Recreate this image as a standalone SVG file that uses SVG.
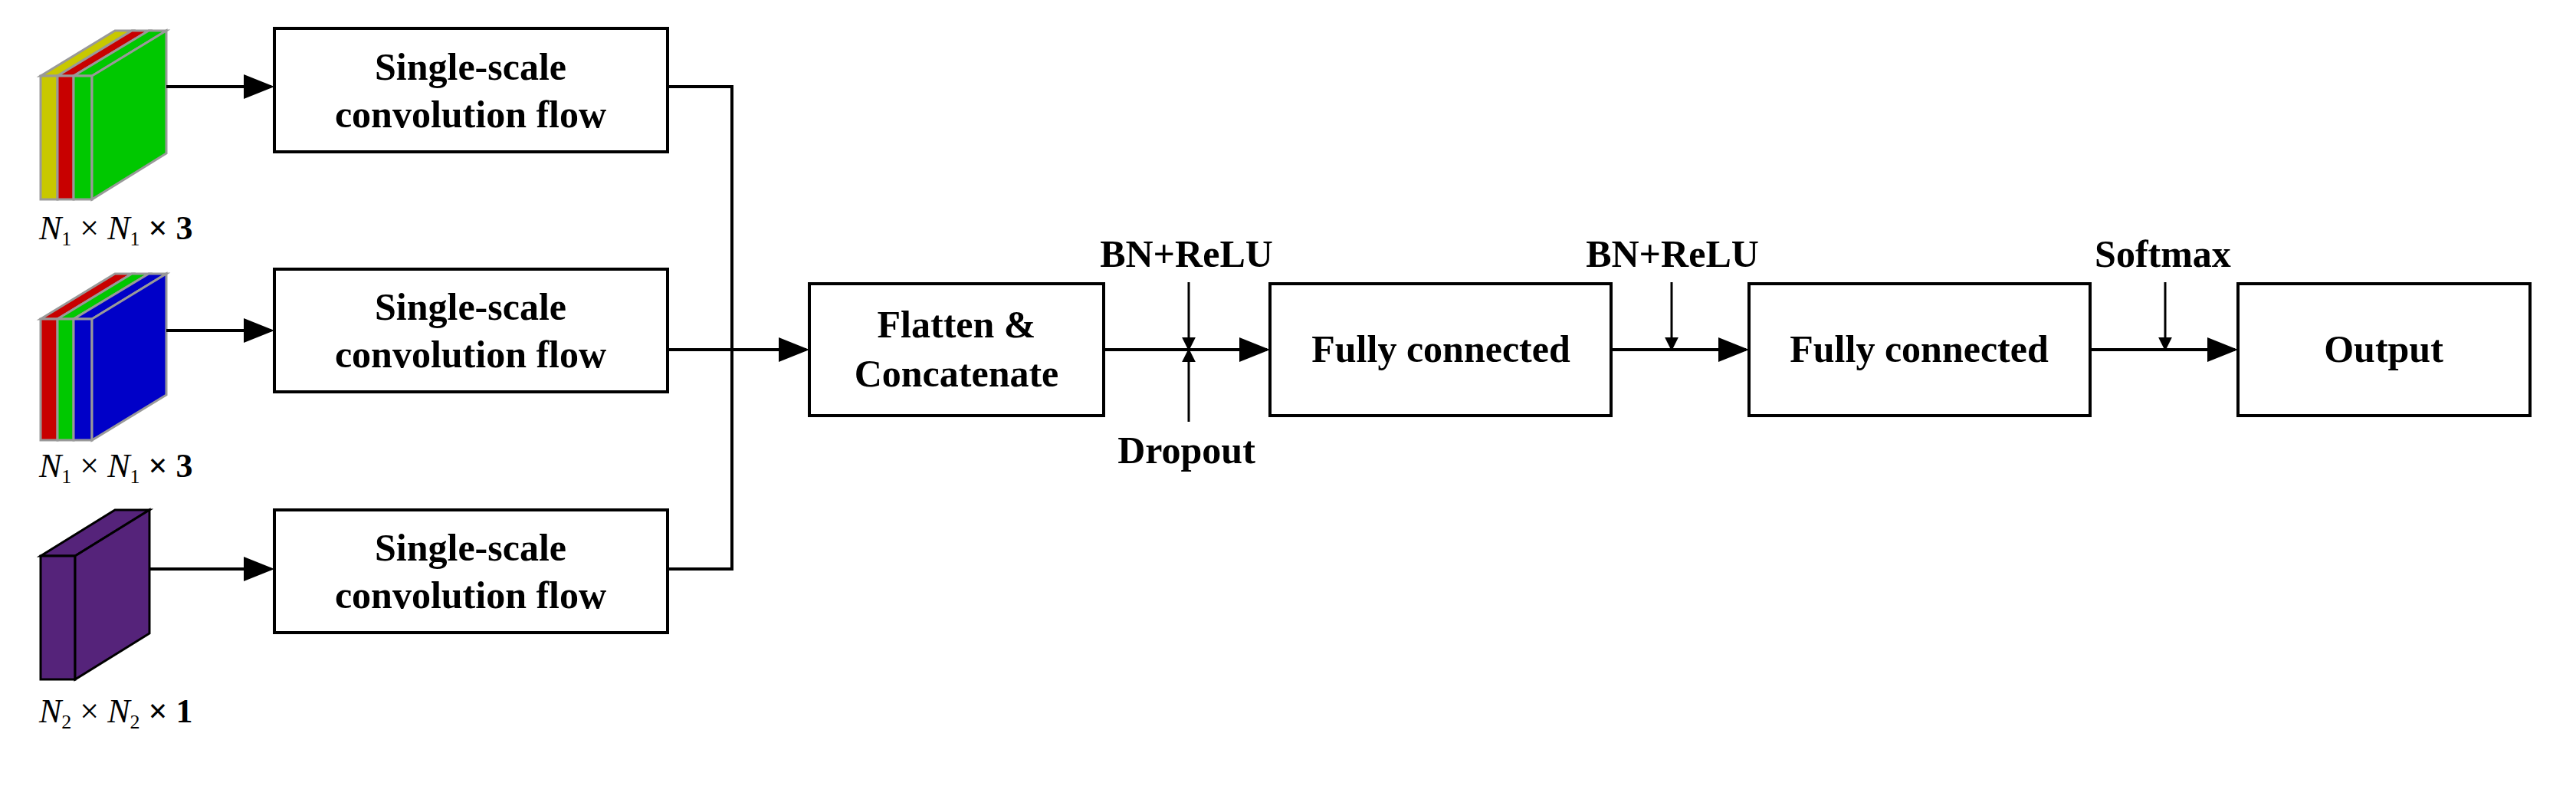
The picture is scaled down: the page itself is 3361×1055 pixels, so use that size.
<svg xmlns="http://www.w3.org/2000/svg" width="3361" height="1055" viewBox="0 0 3361 1055">
<style>
.box{fill:#fff;stroke:#000;stroke-width:4}
.t{font-family:"Liberation Serif","Times New Roman",serif;font-weight:bold;font-size:50px;text-anchor:middle;fill:#000}
.l{font-family:"Liberation Serif","Times New Roman",serif;font-size:44px;fill:#000}
.c{fill:none;stroke:#000;stroke-width:4}
.s{stroke:#999;stroke-width:3}
</style>
<defs>
<marker id="ah" markerWidth="10" markerHeight="8" refX="9" refY="4" orient="auto" markerUnits="strokeWidth"><path d="M0,0 L10,4 L0,8 z" fill="#000"/></marker>
<marker id="ah2" markerWidth="6" markerHeight="10" refX="9" refY="5" orient="auto" viewBox="0 0 10 10"><path d="M0,0 L10,5 L0,10 z" fill="#000"/></marker>
</defs>
<g id="input1">
<polygon class="s" points="53,99 150,40 172,40 75,99" fill="#c8c800"/>
<polygon class="s" points="75,99 172,40 194,40 96,99" fill="#c80000"/>
<polygon class="s" points="96,99 194,40 217,40 120,99" fill="#00c800"/>
<rect class="s" x="53" y="99" width="22" height="161" fill="#c8c800"/>
<rect class="s" x="75" y="99" width="21" height="161" fill="#c80000"/>
<rect class="s" x="96" y="99" width="24" height="161" fill="#00c800"/>
<polygon class="s" points="120,99 217,40 217,200 120,260" fill="#00c800"/>
<text class="l" x="51" y="312"><tspan font-style="italic">N</tspan><tspan font-size="26" dy="8">1</tspan><tspan dy="-8"> × </tspan><tspan font-style="italic">N</tspan><tspan font-size="26" dy="8">1</tspan><tspan dy="-8" font-weight="bold"> × 3</tspan></text>
</g>
<g id="input2">
<polygon class="s" points="53,416 150,357 172,357 75,416" fill="#c80000"/>
<polygon class="s" points="75,416 172,357 194,357 96,416" fill="#00c800"/>
<polygon class="s" points="96,416 194,357 217,357 120,416" fill="#0000c8"/>
<rect class="s" x="53" y="416" width="22" height="158" fill="#c80000"/>
<rect class="s" x="75" y="416" width="21" height="158" fill="#00c800"/>
<rect class="s" x="96" y="416" width="24" height="158" fill="#0000c8"/>
<polygon class="s" points="120,416 217,357 217,515 120,574" fill="#0000c8"/>
<text class="l" x="51" y="622"><tspan font-style="italic">N</tspan><tspan font-size="26" dy="8">1</tspan><tspan dy="-8"> × </tspan><tspan font-style="italic">N</tspan><tspan font-size="26" dy="8">1</tspan><tspan dy="-8" font-weight="bold"> × 3</tspan></text>
</g>
<g id="input3" stroke="#000" stroke-width="3" fill="#55237a">
<polygon points="53,725 150,665 195,665 98,725"/>
<rect x="53" y="725" width="45" height="161"/>
<polygon points="98,725 195,665 195,826 98,886"/>
<text class="l" x="51" y="942" stroke="none" fill="#000"><tspan font-style="italic">N</tspan><tspan font-size="26" dy="8">2</tspan><tspan dy="-8"> × </tspan><tspan font-style="italic">N</tspan><tspan font-size="26" dy="8">2</tspan><tspan dy="-8" font-weight="bold"> × 1</tspan></text>
</g>
<g id="conv1"><rect class="box" x="358" y="37" width="513" height="161"/><text class="t" x="614" y="104">Single-scale</text><text class="t" x="614" y="166">convolution flow</text></g>
<g id="conv2"><rect class="box" x="358" y="351" width="513" height="160"/><text class="t" x="614" y="417">Single-scale</text><text class="t" x="614" y="479">convolution flow</text></g>
<g id="conv3"><rect class="box" x="358" y="665" width="513" height="160"/><text class="t" x="614" y="731">Single-scale</text><text class="t" x="614" y="793">convolution flow</text></g>
<g id="flatten"><rect class="box" x="1056" y="370" width="384" height="172"/><text class="t" x="1248" y="440">Flatten &amp;</text><text class="t" x="1248" y="504">Concatenate</text></g>
<g id="fc1"><rect class="box" x="1657" y="370" width="445" height="172"/><text class="t" x="1880" y="472">Fully connected</text></g>
<g id="fc2"><rect class="box" x="2282" y="370" width="445" height="172"/><text class="t" x="2504" y="472">Fully connected</text></g>
<g id="output"><rect class="box" x="2920" y="370" width="381" height="172"/><text class="t" x="3110" y="472">Output</text></g>
<g id="labels">
<text class="t" x="1548" y="348">BN+ReLU</text>
<text class="t" x="1548" y="604">Dropout</text>
<text class="t" x="2182" y="348">BN+ReLU</text>
<text class="t" x="2822" y="348">Softmax</text>
</g>
<g id="connectors">
<line class="c" x1="217" y1="113" x2="354" y2="113" marker-end="url(#ah)"/>
<line class="c" x1="217" y1="431" x2="354" y2="431" marker-end="url(#ah)"/>
<line class="c" x1="195" y1="742" x2="354" y2="742" marker-end="url(#ah)"/>
<polyline class="c" points="871,113 955,113 955,742 871,742"/>
<line class="c" x1="871" y1="456" x2="1052" y2="456" marker-end="url(#ah)"/>
<line class="c" x1="1440" y1="456" x2="1653" y2="456" marker-end="url(#ah)"/>
<line class="c" x1="2102" y1="456" x2="2278" y2="456" marker-end="url(#ah)"/>
<line class="c" x1="2727" y1="456" x2="2916" y2="456" marker-end="url(#ah)"/>
<line stroke="#000" stroke-width="3" x1="1551" y1="368" x2="1551" y2="456" marker-end="url(#ah2)"/>
<line stroke="#000" stroke-width="3" x1="1551" y1="550" x2="1551" y2="456" marker-end="url(#ah2)"/>
<line stroke="#000" stroke-width="3" x1="2181" y1="368" x2="2181" y2="456" marker-end="url(#ah2)"/>
<line stroke="#000" stroke-width="3" x1="2825" y1="368" x2="2825" y2="456" marker-end="url(#ah2)"/>
</g>
</svg>
